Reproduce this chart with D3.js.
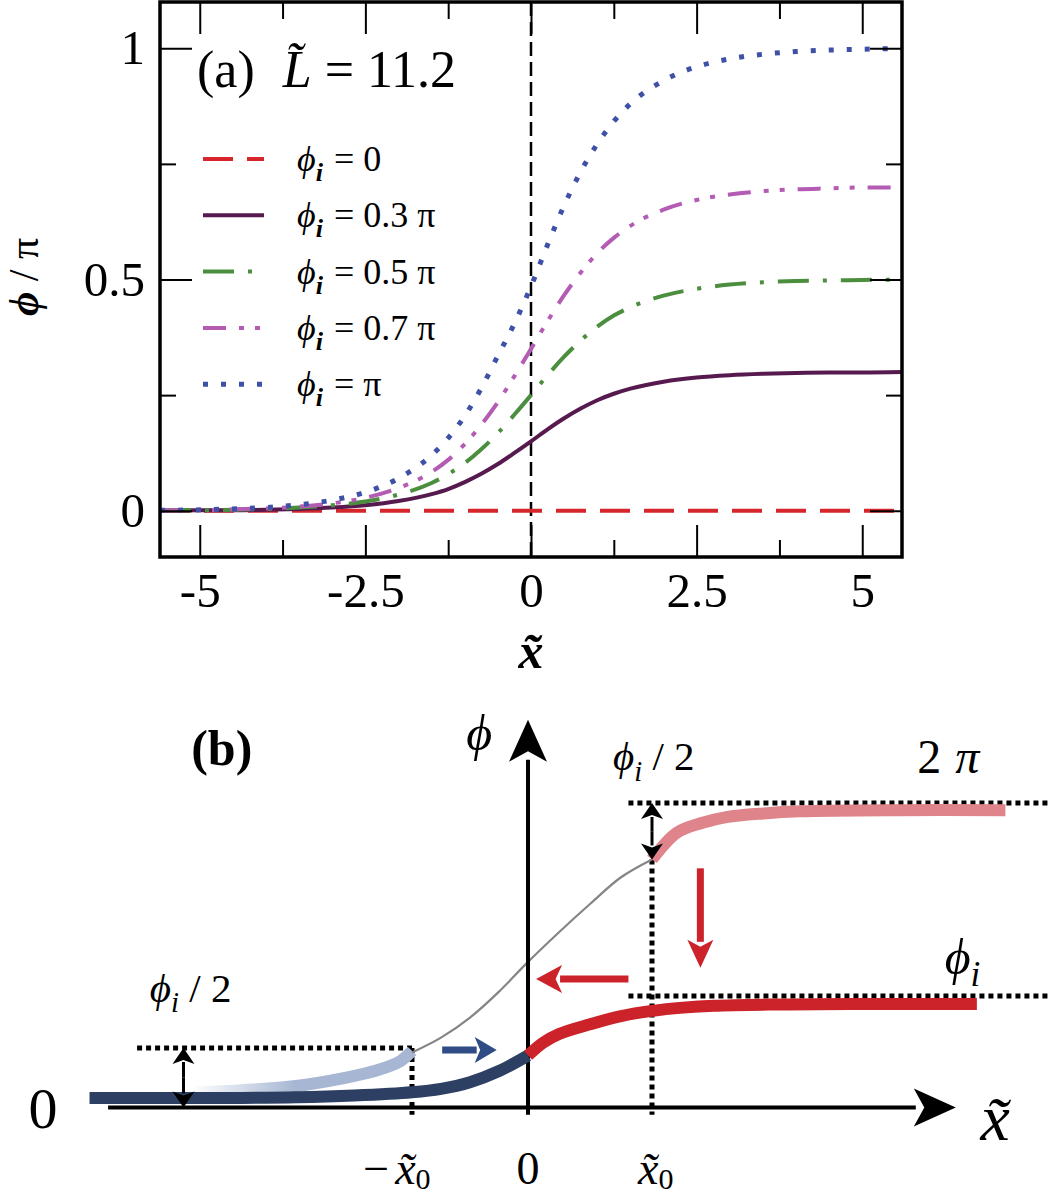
<!DOCTYPE html>
<html>
<head>
<meta charset="utf-8">
<script src="https://cdn.jsdelivr.net/npm/d3@7"></script>
<style>
  body { margin: 0; background: #fff; }
  text { font-family: "Liberation Serif", "Times New Roman", "DejaVu Serif", serif; fill: #000; }
</style>
</head>
<body>
<script>
// ---- panel (a) data: phi / pi against x~ ----
var xVals = [-5.6, -5, -4.5, -4, -3.5, -3, -2.5, -2, -1.5, -1.25, -1, -0.75, -0.5, -0.25, 0,
             0.25, 0.5, 0.75, 1, 1.25, 1.5, 2, 2.5, 3, 3.5, 4, 4.5, 5, 5.6];
var phi00 = [0, 0, 0, 0, 0, 0, 0, 0, 0, 0, 0, 0, 0, 0, 0, 0, 0, 0, 0, 0, 0, 0, 0, 0, 0, 0, 0, 0, 0];
var phi03 = [0.000, 0.001, 0.001, 0.002, 0.004, 0.007, 0.012, 0.021, 0.036, 0.047, 0.062, 0.080, 0.101, 0.125, 0.150,
             0.176, 0.200, 0.221, 0.239, 0.253, 0.264, 0.279, 0.288, 0.293, 0.296, 0.298, 0.299, 0.299, 0.300];
var phi05 = [0.001, 0.001, 0.002, 0.004, 0.007, 0.012, 0.020, 0.035, 0.060, 0.079, 0.103, 0.133, 0.168, 0.208, 0.250,
             0.293, 0.333, 0.368, 0.398, 0.422, 0.440, 0.465, 0.480, 0.489, 0.494, 0.497, 0.498, 0.499, 0.500];
var phi07 = [0.001, 0.001, 0.003, 0.005, 0.009, 0.016, 0.028, 0.049, 0.084, 0.110, 0.144, 0.186, 0.235, 0.291, 0.350,
             0.410, 0.466, 0.515, 0.557, 0.590, 0.616, 0.651, 0.672, 0.684, 0.691, 0.695, 0.697, 0.699, 0.699];
var phi10 = [0.001, 0.002, 0.004, 0.007, 0.013, 0.023, 0.040, 0.070, 0.120, 0.157, 0.205, 0.265, 0.335, 0.405, 0.485,
             0.575, 0.660, 0.733, 0.793, 0.842, 0.880, 0.930, 0.960, 0.977, 0.987, 0.993, 0.996, 0.998, 0.999];

var seriesLabels = ['0', '0.3 \u03c0', '0.5 \u03c0', '0.7 \u03c0', '\u03c0'];
var seriesValues = [phi00, phi03, phi05, phi07, phi10];
var seriesColors = ['#d7262b', '#561a4f', '#4a8e3e', '#b45cb4', '#3e51a6'];
var seriesDash = ['30,14', null, '31,14,4,14', '23,13,5,11,5,13', '5,13'];

var xMajor = [-5, -2.5, 0, 2.5, 5];
var xMinor = [-3.75, -1.25, 1.25, 3.75];
var yMajor = [0, 0.5, 1];
var yMinor = [0.25, 0.75];

// ---- panel (b) sketch data: x in units of x~0, phi in units of pi ----
var navyX = [-3.78, -2.5, -2, -1.5, -1, -0.75, -0.5, -0.25, 0];
var navyY = [0.013, 0.014, 0.018, 0.03, 0.052, 0.075, 0.12, 0.195, 0.30];
var redX = [0, 0.12, 0.25, 0.5, 0.75, 1, 1.25, 1.5, 2, 2.6, 3.62];
var redY = [0.30, 0.385, 0.445, 0.51, 0.565, 0.60, 0.622, 0.635, 0.643, 0.646, 0.647];
var grayX = [-1, -0.75, -0.5, -0.25, 0, 0.25, 0.5, 0.75, 1];
var grayY = [0.32, 0.42, 0.555, 0.73, 0.93, 1.13, 1.32, 1.50, 1.62];
var lightX = [-3.0, -2.6, -2.0, -1.6, -1.3, -1.1, -1];
var lightY = [0.045, 0.06, 0.094, 0.146, 0.20, 0.262, 0.33];
var pinkX = [1, 1.2, 1.4, 1.6, 1.9, 2.2, 3.0, 3.85];
var pinkY = [1.62, 1.80, 1.865, 1.905, 1.93, 1.944, 1.952, 1.952];

var phiI = 0.7;       // level of the lower dotted line
var x0 = 1;           // position of the dotted verticals

var width = 1050;
var height = 1201;

var svg = d3.select('body')
  .append('svg')
  .attr('width', width)
  .attr('height', height);

svg.append('rect').attr('width', width).attr('height', height).attr('fill', '#fff');

// ================= panel (a) =================
var x = d3.scaleLinear().domain([-5.6, 5.6]).range([160, 902]);
var y = d3.scaleLinear().domain([-0.1, 1.1]).range([557, 2]);

var a = svg.append('g');

a.append('clipPath').attr('id', 'clipA')
  .append('rect')
  .attr('x', x(-5.6)).attr('y', y(1.1))
  .attr('width', x(5.6) - x(-5.6)).attr('height', y(-0.1) - y(1.1));

// dashed line at x = 0
a.append('line')
  .attr('x1', x(0)).attr('x2', x(0))
  .attr('y1', y(1.1)).attr('y2', y(-0.1))
  .attr('stroke', '#000')
  .attr('stroke-width', 2.5)
  .attr('stroke-dasharray', '14,6');

var line = d3.line()
  .x(function (d, i) { return x(xVals[i]); })
  .y(function (d) { return y(d); })
  .curve(d3.curveMonotoneX);

var curves = a.append('g').attr('clip-path', 'url(#clipA)');
seriesValues.forEach(function (vals, k) {
  curves.append('path')
    .attr('d', line(vals))
    .attr('fill', 'none')
    .attr('stroke', seriesColors[k])
    .attr('stroke-width', k == 4 ? 5 : 4)
    .attr('stroke-dasharray', seriesDash[k]);
});

// ticks on all four sides, pointing in
function ticks(axis, vals, size, tx, ty, labels) {
  var g = a.append('g')
    .attr('transform', 'translate(' + tx + ',' + ty + ')')
    .call(axis.tickValues(vals).tickSize(-size).tickPadding(15)
      .tickFormat(labels ? function (d) { return String(d); } : ''));
  g.attr('font-family', null);
  g.select('.domain').remove();
  g.selectAll('.tick line').attr('stroke-width', 2);
  g.selectAll('.tick text')
    .attr('font-size', 49)
    .attr('fill', '#000');
  return g;
}
var yBottom = y(-0.1), yTop = y(1.1), xLeft = x(-5.6), xRight = x(5.6);
ticks(d3.axisBottom(x), xMajor, 32, 0, yBottom, true);
ticks(d3.axisBottom(x), xMinor, 17, 0, yBottom, false);
ticks(d3.axisTop(x), xMajor, 32, 0, yTop, false);
ticks(d3.axisTop(x), xMinor, 17, 0, yTop, false);
ticks(d3.axisLeft(y), yMajor, 32, xLeft, 0, true);
ticks(d3.axisLeft(y), yMinor, 16, xLeft, 0, false);
ticks(d3.axisRight(y), yMajor, 32, xRight, 0, false);
ticks(d3.axisRight(y), yMinor, 16, xRight, 0, false);

// frame
a.append('rect')
  .attr('x', xLeft).attr('y', yTop)
  .attr('width', xRight - xLeft).attr('height', yBottom - yTop)
  .attr('fill', 'none').attr('stroke', '#000').attr('stroke-width', 3.5);

// title
var title = a.append('text').attr('x', 197).attr('y', 87).attr('font-size', 52);
title.append('tspan').text('(a)');
title.append('tspan').attr('dx', 28).attr('font-style', 'italic').text('L\u0303');
title.append('tspan').text(' = 11.2');

// legend
var legend = a.append('g');
seriesLabels.forEach(function (lab, k) {
  var ly = 159 + k * 56.3;
  legend.append('line')
    .attr('x1', 203).attr('x2', 264).attr('y1', ly).attr('y2', ly)
    .attr('stroke', seriesColors[k])
    .attr('stroke-width', k == 4 ? 5 : 4)
    .attr('stroke-dasharray', seriesDash[k]);
  var t = legend.append('text').attr('x', 297).attr('y', ly + 12).attr('font-size', 36);
  t.append('tspan').attr('font-style', 'italic').text('\u03d5');
  t.append('tspan').attr('font-style', 'italic').attr('font-weight', 'bold')
    .attr('font-size', 26).attr('dy', 10).text('i');
  t.append('tspan').attr('dy', -10).attr('dx', 11).text('= ' + lab);
});

// axis labels
var yl = a.append('text')
  .attr('transform', 'translate(38,277) rotate(-90)')
  .attr('text-anchor', 'middle')
  .attr('font-size', 42);
yl.append('tspan').attr('font-style', 'italic').attr('font-weight', 'bold').text('\u03d5');
yl.append('tspan').text(' / \u03c0');

a.append('text')
  .attr('x', x(0)).attr('y', 668)
  .attr('text-anchor', 'middle')
  .attr('font-size', 50)
  .attr('font-style', 'italic')
  .attr('font-weight', 'bold')
  .text('x\u0303');

// ================= panel (b) =================
var xb = d3.scaleLinear().domain([-1, 0, 1]).range([412, 528, 652]);
var yb = d3.scaleLinear().domain([0, 2]).range([1100, 803]);

var b = svg.append('g');

var defs = svg.append('defs');
var grad = defs.append('linearGradient')
  .attr('id', 'fadeBlue')
  .attr('gradientUnits', 'userSpaceOnUse')
  .attr('x1', xb(-2.9)).attr('x2', xb(-2.0)).attr('y1', 0).attr('y2', 0);
grad.append('stop').attr('offset', 0).attr('stop-color', '#a6b6d3').attr('stop-opacity', 0);
grad.append('stop').attr('offset', 1).attr('stop-color', '#a6b6d3').attr('stop-opacity', 1);

function bLine(xs, ys) {
  return d3.line()
    .x(function (d, i) { return xb(xs[i]); })
    .y(function (d) { return yb(d); })
    .curve(d3.curveCatmullRom.alpha(0.5))(ys);
}

// dotted guide lines
var dotted = [
  [-3.37, phiI / 2, -x0, phiI / 2],
  [-x0, phiI / 2, -x0, -0.1],
  [x0, 1.62, x0, -0.1],
  [0.81, 2, 4.25, 2],
  [0.81, phiI, 4.25, phiI]
];
dotted.forEach(function (d) {
  b.append('line')
    .attr('x1', xb(d[0])).attr('y1', yb(d[1]))
    .attr('x2', xb(d[2])).attr('y2', yb(d[3]))
    .attr('stroke', '#000').attr('stroke-width', 5)
    .attr('stroke-dasharray', '5,4');
});

// sketch curves
b.append('path').attr('d', bLine(lightX, lightY))
  .attr('fill', 'none').attr('stroke', 'url(#fadeBlue)').attr('stroke-width', 12);
b.append('path').attr('d', bLine(pinkX, pinkY))
  .attr('fill', 'none').attr('stroke', '#e0848b').attr('stroke-width', 12);
b.append('path').attr('d', bLine(grayX, grayY))
  .attr('fill', 'none').attr('stroke', '#858585').attr('stroke-width', 2.2);

// axes with arrows
function arrow(x1, y1, x2, y2, color, w, hl, hw) {
  var p1 = [xb(x1), yb(y1)], p2 = [xb(x2), yb(y2)];
  var dx = p2[0] - p1[0], dy = p2[1] - p1[1];
  var len = Math.sqrt(dx * dx + dy * dy), ux = dx / len, uy = dy / len;
  var bx = p2[0] - ux * hl, by = p2[1] - uy * hl;
  b.append('line')
    .attr('x1', p1[0]).attr('y1', p1[1]).attr('x2', bx + ux * 2).attr('y2', by + uy * 2)
    .attr('stroke', color).attr('stroke-width', w);
  b.append('path')
    .attr('d', 'M' + p2[0] + ',' + p2[1] +
      'L' + (bx - uy * hw / 2) + ',' + (by + ux * hw / 2) +
      'L' + (bx + ux * hl * 0.25) + ',' + (by + uy * hl * 0.25) +
      'L' + (bx + uy * hw / 2) + ',' + (by - ux * hw / 2) + 'Z')
    .attr('fill', color);
}
arrow(-3.62, -0.05, 3.45, -0.05, '#000', 4, 42, 38);
arrow(0, -0.1, 0, 2.56, '#000', 4, 42, 38);

b.append('path').attr('d', bLine(navyX, navyY))
  .attr('fill', 'none').attr('stroke', '#2d3f62').attr('stroke-width', 12);
b.append('path').attr('d', bLine(redX, redY))
  .attr('fill', 'none').attr('stroke', '#cc2229').attr('stroke-width', 12);

// shift arrows
arrow(-0.74, 0.337, -0.27, 0.337, '#2f4c86', 7, 22, 26);
arrow(0.81, 0.815, 0.065, 0.815, '#cc2229', 7, 26, 28);
arrow(1.39, 1.56, 1.39, 0.89, '#cc2229', 7, 28, 26);

// double arrows for phi_i / 2
function dbl(xv, ya, yc) {
  arrow(xv, (ya + yc) / 2, xv, ya, '#000', 3, 16, 22);
  arrow(xv, (ya + yc) / 2, xv, yc, '#000', 3, 16, 22);
}
dbl(-2.97, phiI / 2, -0.05);
dbl(x0, 2, 1.62);

// labels
function phiSub(t, size) {
  t.append('tspan').attr('font-style', 'italic').text('\u03d5');
  t.append('tspan').attr('font-style', 'italic').attr('font-size', size * 0.7)
    .attr('dy', size * 0.25).text('i');
}
b.append('text').attr('x', xb(-2.64)).attr('y', yb(2.256))
  .attr('text-anchor', 'middle').attr('font-size', 50).attr('font-weight', 'bold').text('(b)');
b.append('text').attr('x', xb(-0.42)).attr('y', yb(2.357))
  .attr('text-anchor', 'middle').attr('font-size', 50).attr('font-style', 'italic').text('\u03d5');
b.append('text').attr('x', xb(-4.18)).attr('y', yb(-0.19))
  .attr('text-anchor', 'middle').attr('font-size', 58).text('0');

var l1 = b.append('text').attr('x', xb(-3.26)).attr('y', yb(0.66)).attr('font-size', 41);
phiSub(l1, 41);
l1.append('tspan').attr('dy', -41 * 0.25).text(' / 2');
var l2 = b.append('text').attr('x', xb(0.685)).attr('y', yb(2.22)).attr('font-size', 41);
phiSub(l2, 41);
l2.append('tspan').attr('dy', -41 * 0.25).text(' / 2');

var l3 = b.append('text').attr('x', xb(3.14)).attr('y', yb(2.2)).attr('font-size', 48);
l3.append('tspan').text('2');
l3.append('tspan').attr('dx', 14).attr('font-style', 'italic').text('\u03c0');

var l4 = b.append('text').attr('x', xb(3.36)).attr('y', yb(0.85)).attr('font-size', 50);
phiSub(l4, 50);

b.append('text').attr('x', xb(3.65)).attr('y', yb(-0.27))
  .attr('font-size', 66).attr('font-style', 'italic').text('x\u0303');

var bottomY = yb(-0.565);
var l5 = b.append('text').attr('x', xb(-0.84)).attr('y', bottomY)
  .attr('text-anchor', 'end').attr('font-size', 46);
l5.append('tspan').text('\u2212');
l5.append('tspan').attr('dx', 6).attr('font-style', 'italic').text('x\u0303');
l5.append('tspan').attr('font-size', 30).attr('dy', 5).text('0');

b.append('text').attr('x', xb(0)).attr('y', bottomY)
  .attr('text-anchor', 'middle').attr('font-size', 46).text('0');

var l6 = b.append('text').attr('x', xb(1.03)).attr('y', bottomY)
  .attr('text-anchor', 'middle').attr('font-size', 46);
l6.append('tspan').attr('font-style', 'italic').text('x\u0303');
l6.append('tspan').attr('font-size', 30).attr('dy', 5).text('0');
</script>
</body>
</html>
